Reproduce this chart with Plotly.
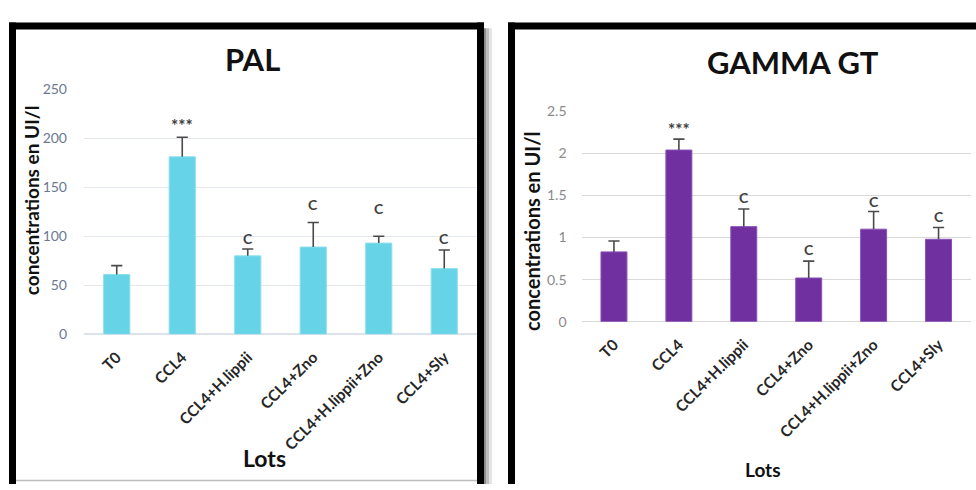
import plotly.graph_objects as go

# ---------------- data ----------------
lots = ["T0", "CCL4", "CCL4+H.lippii", "CCL4+Zno", "CCL4+H.lippii+Zno", "CCL4+Sly"]

pal_mean = [61, 181, 80, 89, 93, 67]
pal_err = [9, 20, 7, 25, 7, 19]
pal_sig = ["", "***", "C", "C", "C", "C"]
pal_sig_y = [0, 216, 98, 132, 128, 98]

ggt_mean = [0.83, 2.04, 1.13, 0.52, 1.10, 0.98]
ggt_err = [0.13, 0.13, 0.21, 0.20, 0.21, 0.14]
ggt_sig = ["", "***", "C", "C", "C", "C"]
ggt_sig_y = [0, 2.32, 1.48, 0.86, 1.43, 1.25]

pal_ticks = [0, 50, 100, 150, 200, 250]
ggt_ticks = [0, 0.5, 1, 1.5, 2, 2.5]
ggt_ticktext = ["0", "0.5", "1", "1.5", "2", "2.5"]

W, H = 976, 490
FONT = "Lato, 'Open Sans', sans-serif"
CYAN = "#66d3e7"
PURPLE = "#7030a0"
ERR = "#4a4a4a"


def px(x):
    return x / W


def py(y):
    return 1 - y / H


fig = go.Figure()

# bars
fig.add_trace(go.Bar(x=lots, y=pal_mean, marker=dict(color=CYAN, line=dict(color="#8fe0ee", width=1)),
                     xaxis="x", yaxis="y", hoverinfo="skip"))
fig.add_trace(go.Bar(x=lots, y=ggt_mean, marker=dict(color=PURPLE, line=dict(color="#8a52b8", width=1)),
                     xaxis="x2", yaxis="y2", hoverinfo="skip"))

# error bars (upper only): vertical line + cap marker
for means, errs, xa, ya in [(pal_mean, pal_err, "x", "y"), (ggt_mean, ggt_err, "x2", "y2")]:
    tops = [m + e for m, e in zip(means, errs)]
    fig.add_trace(go.Scatter(
        x=lots, y=tops, mode="markers", xaxis=xa, yaxis=ya,
        marker=dict(symbol="line-ew", size=8, line=dict(color=ERR, width=1.6), color=ERR),
        error_y=dict(type="data", symmetric=False, array=[0] * len(tops), arrayminus=errs,
                     width=0, thickness=1.6, color=ERR),
        hoverinfo="skip"))

annotations = []
# significance letters
for sig, ys, xa, ya in [(pal_sig, pal_sig_y, "x", "y"), (ggt_sig, ggt_sig_y, "x2", "y2")]:
    for cat, s, yv in zip(lots, sig, ys):
        if s:
            annotations.append(dict(x=cat, y=yv, xref=xa, yref=ya, text="<b>%s</b>" % s, showarrow=False,
                                    font=dict(family=FONT, size=14 if s != "***" else 17, color="#404040"),
                                    xanchor="center", yanchor="middle",
                                    yshift=0 if s != "***" else -3))


def label(x, y, text, size, angle=0):
    annotations.append(dict(x=px(x), y=py(y), xref="paper", yref="paper", text="<b>%s</b>" % text,
                            showarrow=False, textangle=angle, xanchor="center", yanchor="middle",
                            font=dict(family=FONT, size=size, color="#111111")))


# titles
label(252, 52, "PAL", 31)
label(793, 55, "GAMMA GT", 31)
# x titles
label(264, 465, "Lots", 23)
label(763, 477, "Lots", 19)
# y titles
label(31, 198, "concentrations en UI/l", 19, -90)
label(532, 231, "concentrations en UI/l", 20, -90)

shapes = []
BLK = dict(color="black", width=7)
# left panel frame
shapes.append(dict(type="line", xref="paper", yref="paper", x0=px(12.5), x1=px(12.5), y0=py(14), y1=py(492), line=BLK))
shapes.append(dict(type="line", xref="paper", yref="paper", x0=px(9), x1=px(484), y0=py(17.5), y1=py(17.5), line=BLK))
shapes.append(dict(type="line", xref="paper", yref="paper", x0=px(480.5), x1=px(480.5), y0=py(14), y1=py(492), line=BLK))
shapes.append(dict(type="line", xref="paper", yref="paper", x0=px(16), x1=px(477), y0=py(488.5), y1=py(488.5),
                   line=dict(color="#bdbdbd", width=1.5)))
# shadow
for x0, x1, c in [(484, 486.5, "#8c8c8c"), (486.5, 489, "#bcbcbc"), (489, 492, "#e4e4e4")]:
    shapes.append(dict(type="rect", xref="paper", yref="paper", x0=px(x0), x1=px(x1), y0=py(20), y1=py(492),
                       fillcolor=c, line=dict(width=0), layer="below"))
# right panel frame
shapes.append(dict(type="line", xref="paper", yref="paper", x0=px(511.5), x1=px(511.5), y0=py(14), y1=py(492), line=BLK))
shapes.append(dict(type="line", xref="paper", yref="paper", x0=px(508), x1=px(978), y0=py(17.5), y1=py(17.5), line=BLK))

fig.update_layout(
    width=W, height=H, margin=dict(l=0, r=0, t=0, b=0),
    paper_bgcolor="white", plot_bgcolor="white", showlegend=False,
    bargap=0.6,
    annotations=annotations, shapes=shapes,
    xaxis=dict(domain=[px(84), px(477)], anchor="y", tickangle=-45, showgrid=False, showline=False,
               ticks="", ticklabelstandoff=10,
               tickfont=dict(family=FONT, size=15.5, color="#262626", weight="bold")),
    yaxis=dict(domain=[py(337), py(83)], anchor="x", range=[0, 250], tickvals=pal_ticks,
               gridcolor="#e3e8ee", gridwidth=1.2, zeroline=True, zerolinecolor="#dde3ea", zerolinewidth=1.5,
               showline=False, ticks="", ticklabelstandoff=16,
               tickfont=dict(family=FONT, size=14, color="#6a7990")),
    xaxis2=dict(domain=[px(581.5), px(971)], anchor="y2", tickangle=-45, showgrid=False, showline=False,
                ticks="", ticklabelstandoff=10,
                tickfont=dict(family=FONT, size=15.5, color="#262626", weight="bold")),
    yaxis2=dict(domain=[py(324), py(106)], anchor="x2", range=[0, 2.5], tickvals=ggt_ticks, ticktext=ggt_ticktext,
                gridcolor="#d9d9d9", gridwidth=1, zeroline=True, zerolinecolor="#d9d9d9", zerolinewidth=1.2,
                showline=False, ticks="", ticklabelstandoff=14,
                tickfont=dict(family=FONT, size=14, color="#8a8a8a")),
)

fig.write_html("out.html")
